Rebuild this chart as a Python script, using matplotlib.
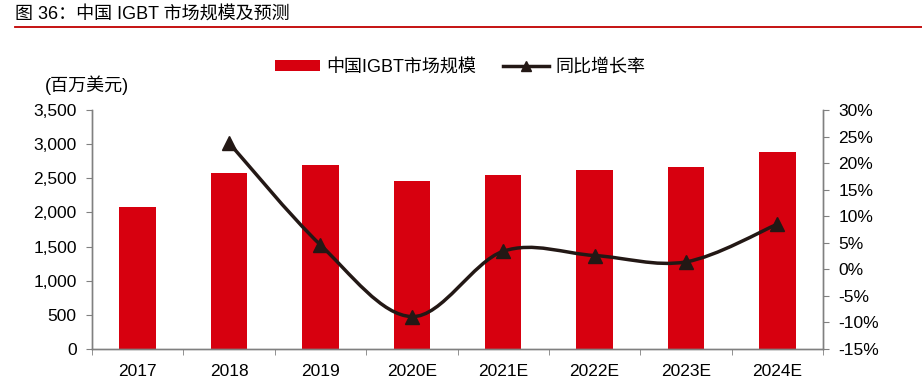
import matplotlib
matplotlib.use("Agg")
import matplotlib.pyplot as plt
from matplotlib.path import Path
from matplotlib.patches import PathPatch
from matplotlib.lines import Line2D
from matplotlib.patches import Patch
import numpy as np

plt.rcParams['font.family'] = ['Liberation Sans', 'Noto Sans CJK SC', 'DejaVu Sans']

categories = ["2017", "2018", "2019", "2020E", "2021E", "2022E", "2023E", "2024E"]
market_size = [2080, 2580, 2700, 2460, 2545, 2615, 2660, 2885]
growth_idx = [1, 2, 3, 4, 5, 6, 7]
growth = [23.8, 4.6, -8.9, 3.4, 2.6, 1.4, 8.5]

RED = "#D7000F"
GRAY = "#808080"
FS = 12.5

fig = plt.figure(figsize=(9.22, 3.88), dpi=100)
W, H = 922, 388
ax = fig.add_axes([92 / W, 1 - 349 / H, (823 - 92) / W, (349 - 110) / H])
ax2 = ax.twinx()

x = np.arange(len(categories))
ax.bar(x, market_size, width=0.4, color=RED, zorder=2)
ax.set_xlim(-0.5, len(categories) - 0.5)
ax.set_ylim(0, 3500)
ax.set_yticks(np.arange(0, 3501, 500))
ax.set_yticklabels([f"{v:,}" for v in range(0, 3501, 500)])
ax.set_xticks(x)
ax.set_xticklabels(categories)
ax.set_xticks(np.arange(-0.5, len(categories) + 0.5, 1), minor=True)
ax.tick_params(axis='x', which='major', length=0, pad=11, labelsize=FS)
ax.tick_params(axis='x', which='minor', length=4, color=GRAY, direction='out')
ax.tick_params(axis='y', length=4, color=GRAY, labelsize=FS, pad=7)

ax2.set_ylim(-15, 30)
ax2.set_yticks(np.arange(-15, 31, 5))
ax2.set_yticklabels([f"{v}%" for v in range(-15, 31, 5)])
ax2.tick_params(axis='y', length=4, color=GRAY, labelsize=FS, pad=7)

for a in (ax, ax2):
    a.spines['top'].set_visible(False)
    for s in ('left', 'right', 'bottom'):
        a.spines[s].set_color(GRAY)
        a.spines[s].set_linewidth(1.0)

# smoothed line (Excel-style Bezier smoothing)
px = np.array(growth_idx, dtype=float)
py = np.array(growth, dtype=float)
n = len(px)
verts = [(px[0], py[0])]
codes = [Path.MOVETO]
for i in range(n - 1):
    p0 = np.array([px[max(i - 1, 0)], py[max(i - 1, 0)]])
    p1 = np.array([px[i], py[i]])
    p2 = np.array([px[i + 1], py[i + 1]])
    p3 = np.array([px[min(i + 2, n - 1)], py[min(i + 2, n - 1)]])
    c1 = p1 + (p2 - p0) / 6.0
    c2 = p2 - (p3 - p1) / 6.0
    verts += [tuple(c1), tuple(c2), tuple(p2)]
    codes += [Path.CURVE4, Path.CURVE4, Path.CURVE4]
ax2.add_patch(PathPatch(Path(verts, codes), facecolor='none', edgecolor='#231815',
                        linewidth=2.5, zorder=3))
ax2.plot(px, py, linestyle='none', marker='^', markersize=10, color='#231815', zorder=4)

# legend
handles = [Patch(facecolor=RED, edgecolor='none'),
           Line2D([0], [0], color='#231815', lw=2.5, marker='^', markersize=7)]
fig.legend(handles, ["中国IGBT市场规模", "同比增长率"], loc='center',
           bbox_to_anchor=(460 / W, 1 - 67 / H), ncol=2, frameon=False,
           fontsize=13, handlelength=2.5, handleheight=0.55, columnspacing=1.5,
           handletextpad=0.35)

fig.text(45 / W, 1 - 85 / H, "(百万美元)", fontsize=13, va='center', ha='left')

# title
fig.text(15 / W, 1 - 14 / H, "图 36：中国 IGBT 市场规模及预测", fontsize=13,
         va='center', ha='left')
fig.add_artist(Line2D([15 / W, 1.0], [1 - 27 / H, 1 - 27 / H], color='#C00000', lw=1.3,
                      transform=fig.transFigure))

fig.savefig("out.png", dpi=100)
